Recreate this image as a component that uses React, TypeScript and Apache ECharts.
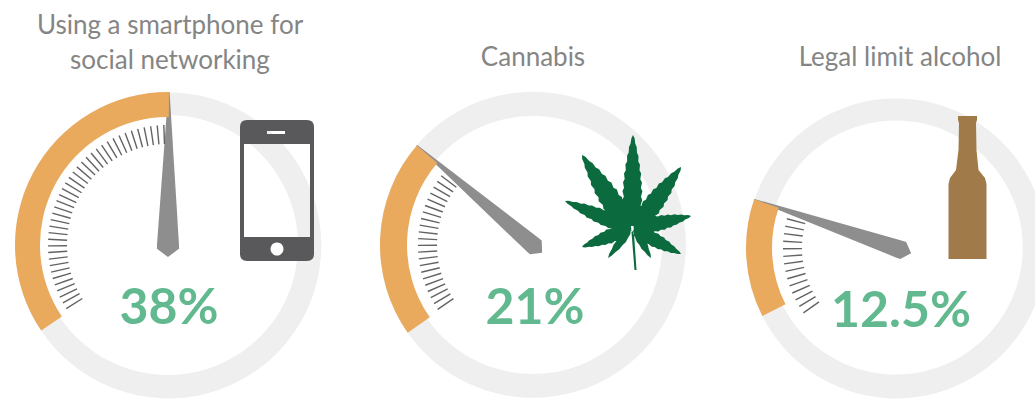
import React, { useEffect, useRef } from "react";
import * as echarts from "echarts";

// Share of driving-risk readings shown on each dial
const names = ["Using a smartphone for\nsocial networking", "Cannabis", "Legal limit alcohol"];
const values = [38, 21, 12.5];
const labels = ["38%", "21%", "12.5%"];
// Value that one full turn of each dial stands for
const fullTurn = [110, 100, 98];

const GREY_RING = "#efefef";
const ORANGE = "#e9aa5e";
const NEEDLE = "#8e8e8e";
const TICK = "#636363";
const GREEN = "#62b98f";
const TITLE = "#858585";
const FONT = "Lato";

// Dial geometry; angles are clockwise from twelve o'clock
const dials = [
  { cx: 168, cy: 245, r: 153, band: 25, track: 23, start: 236, tickR: 120, tickLen: 19, tickFrom: 238, tickTo: 358, needleW: 22, past: 12, titleY: -204, titleX: 2, labelX: 1 },
  { cx: 533, cy: 245, r: 153, band: 27, track: 24, start: 235, tickR: 115, tickLen: 19, tickFrom: 236, tickTo: 307, needleW: 18, past: 12, titleY: -189, titleX: 0, labelX: 2 },
  { cx: 896, cy: 248, r: 150, band: 26, track: 23, start: 243, tickR: 113, tickLen: 19, tickFrom: 235, tickTo: 285, needleW: 18, past: 16, titleY: -192, titleX: 4, labelX: 5 },
];

const NEEDLE_ICON = "path://M9.4 0 L10.6 0 L20 148 L20 152 L10 160 L0 152 L0 148 Z";

const clock = (deg: number) => 90 - deg;

// Builds one toothed leaflet between a base point and a tip
function leaflet(bx: number, by: number, tx: number, ty: number, w: number, teeth = 9) {
  const dx = tx - bx;
  const dy = ty - by;
  const len = Math.hypot(dx, dy);
  const ux = dx / len;
  const uy = dy / len;
  const nx = -uy;
  const ny = ux;
  const side = (sign: number, reverse: boolean) => {
    const pts: string[] = [];
    for (let i = 1; i < teeth * 2; i++) {
      const t = i / (teeth * 2);
      const profile = Math.pow(Math.sin(Math.PI * Math.pow(t, 0.7)), 0.8) * w;
      const h = profile * (i % 2 ? 1 : 0.86);
      const along = len * t + (i % 2 ? len * 0.012 : 0);
      pts.push(`${(bx + ux * along + nx * h * sign).toFixed(1)} ${(by + uy * along + ny * h * sign).toFixed(1)}`);
    }
    return reverse ? pts.reverse() : pts;
  };
  const a = side(1, false).map((p) => `L${p}`).join(" ");
  const b = side(-1, true).map((p) => `L${p}`).join(" ");
  return `M${bx} ${by} ${a} L${tx} ${ty} ${b} Z`;
}

const LEAF_PATH = [
  leaflet(632, 232, 633, 135, 10, 11),
  leaflet(630, 230, 582, 155, 11, 10),
  leaflet(634, 230, 681, 167, 10, 10),
  leaflet(630, 229, 565, 201, 8, 9),
  leaflet(634, 229, 691, 216, 8, 9),
  leaflet(631, 228, 582, 247, 7.5, 8),
  leaflet(634, 229, 681, 254, 7.5, 8),
  leaflet(631, 228, 608, 258, 4.5, 4),
  leaflet(634, 228, 651, 258, 4.5, 4),
  "M631 226 L633.5 226 L636.5 270 L634.5 270 Z",
].join(" ");

const PHONE_PATH =
  "M247 120 L307 120 Q314 120 314 127 L314 254 Q314 261 307 261 L247 261 Q240 261 240 254 L240 127 Q240 120 247 120 Z " +
  "M244 144 L244 237 L310 237 L310 144 Z " +
  "M267 131 L267 134 L285 134 L285 131 Z";

const BOTTLE_PATH =
  "M958 116 L977 116 L977 120 L976 123 L976.5 150 L978.5 170 L985 178 L986.5 184 L986.5 259 L948.5 259 L948.5 184 L950 178 L956 170 L958.5 150 L959 123 L958 120 Z";

echarts.graphic.registerShape("leafIcon", echarts.graphic.extendPath(LEAF_PATH, {}));
echarts.graphic.registerShape("phoneIcon", echarts.graphic.extendPath(PHONE_PATH, {}));
echarts.graphic.registerShape("bottleIcon", echarts.graphic.extendPath(BOTTLE_PATH, {}));

function dialSeries(i: number) {
  const d = dials[i];
  const center = [d.cx, d.cy];
  const ring = {
    type: "gauge",
    center,
    radius: d.r,
    startAngle: clock(d.start),
    endAngle: clock(d.start) - 360,
    min: 0,
    max: fullTurn[i],
    z: 2,
    axisLine: { lineStyle: { width: d.track, color: [[1, GREY_RING]] } },
    progress: { show: true, width: d.band, itemStyle: { color: ORANGE } },
    axisTick: { show: false },
    splitLine: { show: false },
    axisLabel: { show: false },
    anchor: { show: false },
    pointer: {
      show: true,
      showAbove: true,
      icon: NEEDLE_ICON,
      length: d.r + d.past,
      width: d.needleW,
      offsetCenter: [0, d.past],
      itemStyle: { color: NEEDLE },
    },
    title: {
      show: true,
      offsetCenter: [d.titleX, d.titleY],
      color: TITLE,
      fontFamily: FONT,
      fontWeight: 400,
      fontSize: 26,
      lineHeight: 35,
    },
    detail: {
      show: true,
      offsetCenter: [d.labelX, 60],
      color: GREEN,
      fontFamily: FONT,
      fontWeight: 700,
      fontSize: 50,
      formatter: () => labels[i],
    },
    data: [{ value: values[i], name: names[i] }],
  };
  const ticks = {
    type: "gauge",
    center,
    radius: d.tickR,
    startAngle: clock(d.tickFrom),
    endAngle: clock(d.tickTo),
    min: 0,
    max: values[i],
    splitNumber: Math.round(values[i]),
    z: 3,
    axisLine: { show: false, lineStyle: { width: 0 } },
    progress: { show: false },
    axisTick: { show: false },
    axisLabel: { show: false },
    anchor: { show: false },
    pointer: { show: false },
    title: { show: false },
    detail: { show: false },
    splitLine: {
      show: true,
      distance: 0,
      length: d.tickLen,
      lineStyle: { color: TICK, width: 1.4 },
    },
    data: [{ value: values[i] }],
  };
  return [ring, ticks];
}

export default function App() {
  const ref = useRef<HTMLDivElement>(null);
  useEffect(() => {
    const chart = echarts.init(ref.current!, null, { renderer: "svg" });
    chart.setOption({
      animation: false,
      backgroundColor: "#ffffff",
      series: [0, 1, 2].flatMap(dialSeries),
      graphic: {
        elements: [
          { type: "phoneIcon", x: 0, y: 0, z: 5, style: { fill: "#59595b" } },
          { type: "circle", z: 6, shape: { cx: 277, cy: 249, r: 6.5 }, style: { fill: "#ffffff" } },
          { type: "leafIcon", x: 0, y: 0, z: 5, style: { fill: "#0b6b3f" } },
          { type: "bottleIcon", x: 0, y: 0, z: 5, style: { fill: "#a07a48" } },
        ],
      },
    });
    return () => chart.dispose();
  }, []);
  return <div ref={ref} style={{ position: "fixed", left: 0, top: 0, width: 1035, height: 401 }} />;
}
